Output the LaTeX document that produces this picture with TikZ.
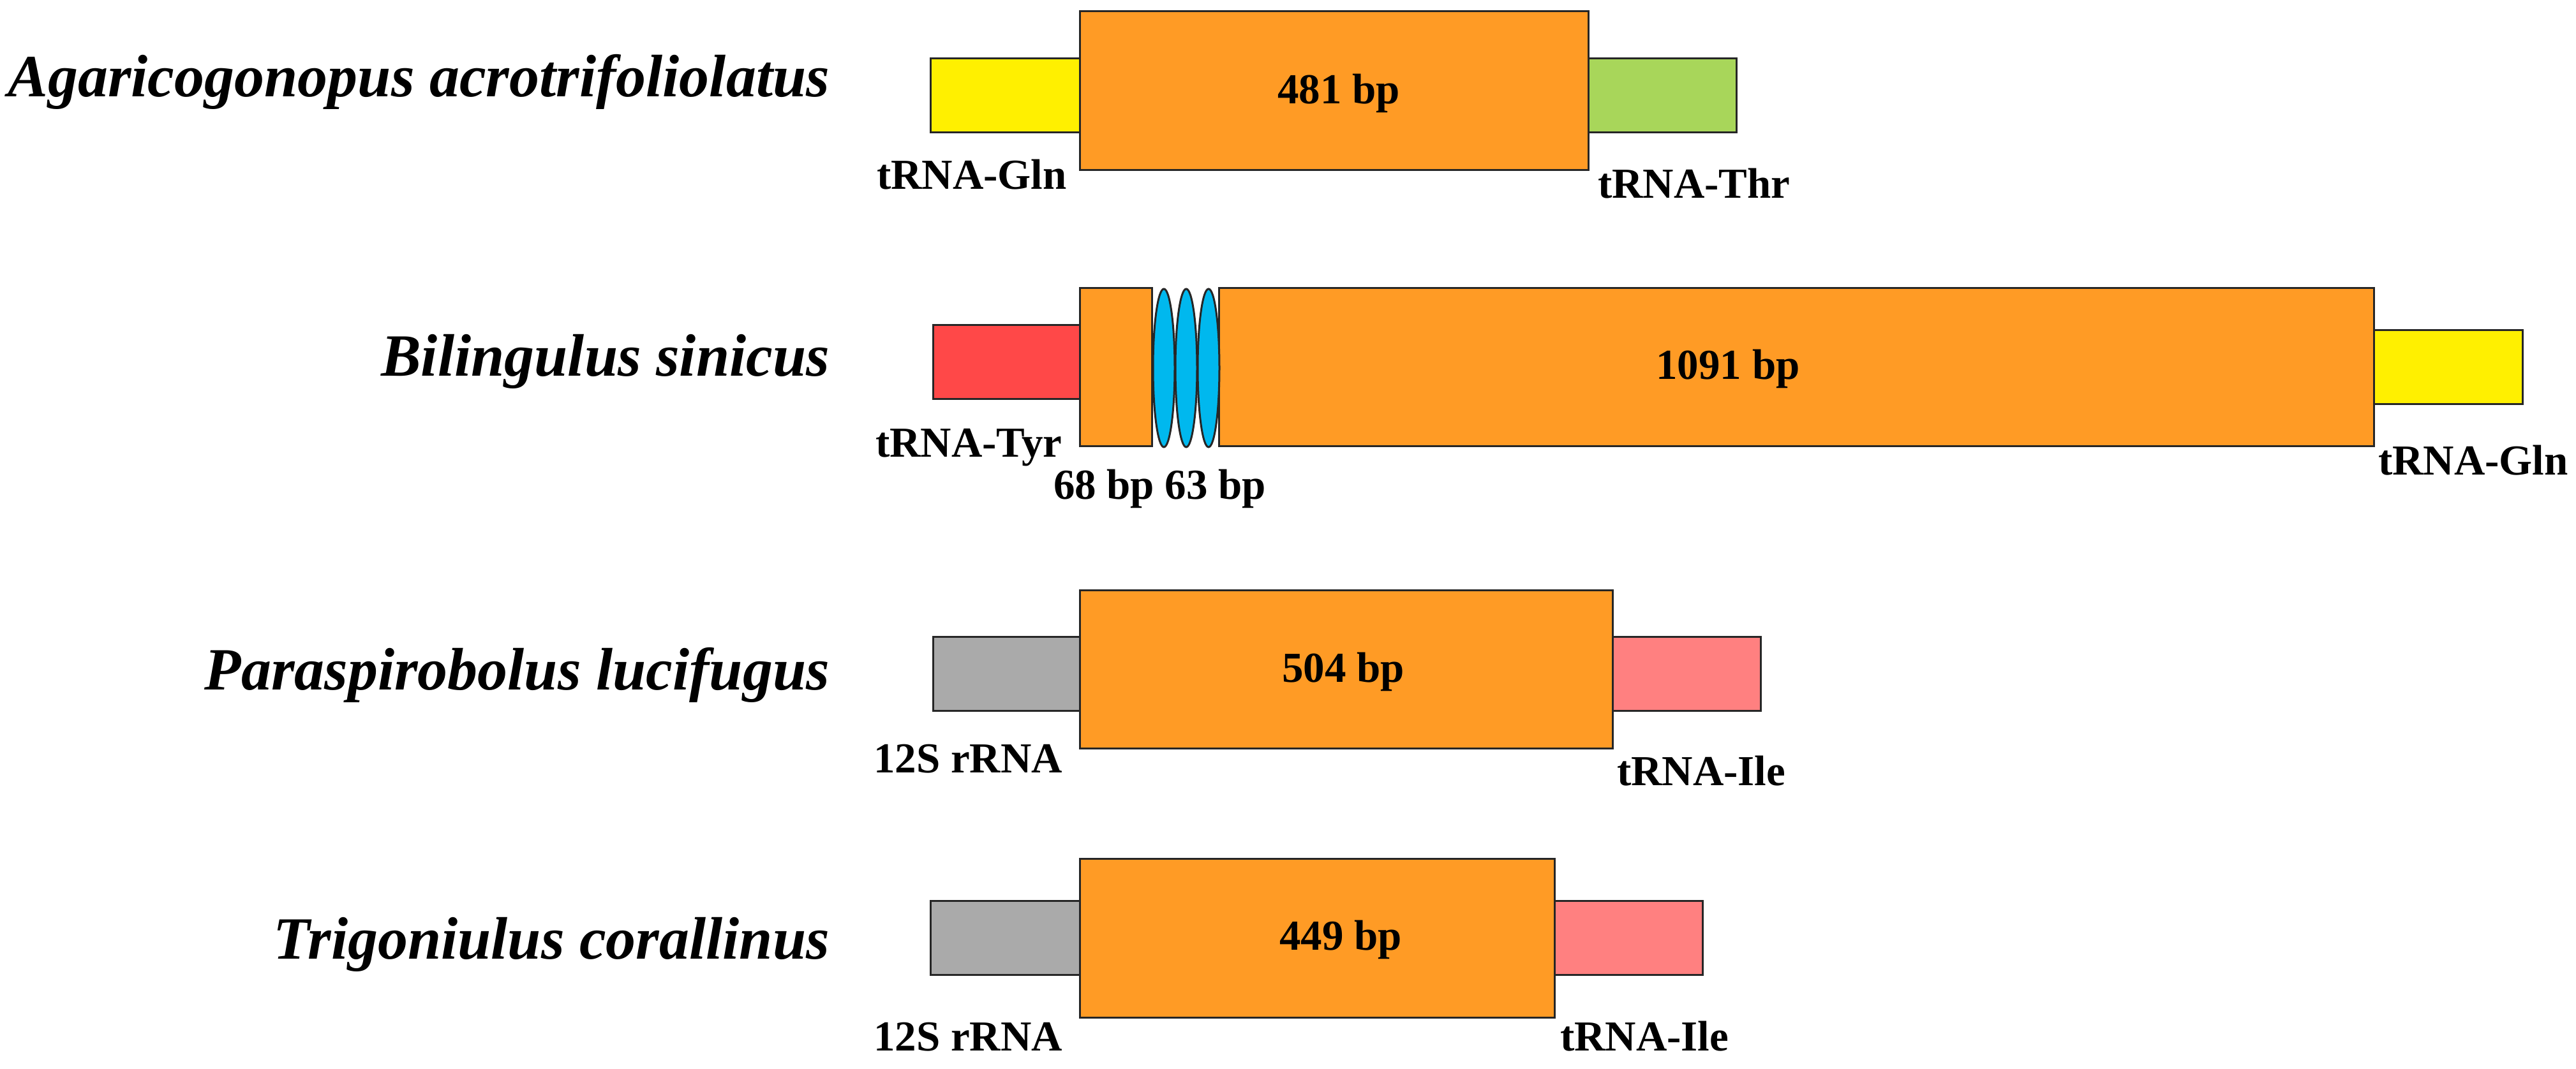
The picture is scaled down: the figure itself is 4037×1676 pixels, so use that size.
\documentclass[tikz,border=0pt]{standalone}
\usepackage{fontspec}
\setmainfont{Liberation Serif}
\definecolor{orng}{HTML}{FF9B25}
\definecolor{yel}{HTML}{FFF000}
\definecolor{grn}{HTML}{A8D65A}
\definecolor{redb}{HTML}{FF4848}
\definecolor{pnk}{HTML}{FF8080}
\definecolor{gry}{HTML}{AAAAAA}
\definecolor{cyn}{HTML}{00B8EE}
\tikzset{
  seg/.style={draw=black!85, line width=0.3pt},
  species/.style={inner sep=0pt, anchor=base east, font=\fontsize{9.4pt}{10pt}\selectfont\bfseries\itshape},
  lbl/.style={inner sep=0pt, anchor=base west, font=\fontsize{6.7pt}{7pt}\selectfont\bfseries},
  bp/.style={inner sep=0pt, anchor=base, font=\fontsize{6.7pt}{7pt}\selectfont\bfseries}
}
\begin{document}
\begin{tikzpicture}[x=0.1pt,y=-0.1pt]
\useasboundingbox (0,0) rectangle (4037,1676);
% Row 1
\node[species] (n1) at (1302,152) {Agaricogonopus acrotrifoliolatus};
\filldraw[seg, fill=yel] (1458,92) rectangle (1692,208);
\filldraw[seg, fill=grn] (2489,92) rectangle (2721,208);
\filldraw[seg, fill=orng] (1692,18) rectangle (2489,267);
\node[bp] (b1) at (2098,163) {481 bp};
\node[lbl] (l1a) at (1372,297) {tRNA-Gln};
\node[lbl] (l1b) at (2502,311) {tRNA-Thr};
% Row 2
\node[species] (n2) at (1302,590) {Bilingulus sinicus};
\filldraw[seg, fill=redb] (1462,510) rectangle (1692,626);
\filldraw[seg, fill=yel] (3720,518) rectangle (3953,634);
\filldraw[seg, fill=orng] (1692,452) rectangle (1805,700);
\filldraw[seg, fill=orng] (1910,452) rectangle (3720,700);
\filldraw[seg, fill=cyn] (1824,577) ellipse [x radius=17, y radius=124];
\filldraw[seg, fill=cyn] (1859,577) ellipse [x radius=17, y radius=124];
\filldraw[seg, fill=cyn] (1894,577) ellipse [x radius=17, y radius=124];
\node[bp] (b2) at (2708,595) {1091 bp};
\node[lbl] (l2a) at (1370,717) {tRNA-Tyr};
\node[lbl] (l2b) at (1649,783) {68 bp 63 bp};
\node[lbl] (l2c) at (3725,745) {tRNA-Gln};
% Row 3
\node[species] (n3) at (1302,1082) {Paraspirobolus lucifugus};
\filldraw[seg, fill=gry] (1462,999) rectangle (1692,1115);
\filldraw[seg, fill=pnk] (2527,999) rectangle (2759,1115);
\filldraw[seg, fill=orng] (1692,926) rectangle (2527,1174);
\node[bp] (b3) at (2105,1070) {504 bp};
\node[lbl] (l3a) at (1367,1212) {12S rRNA};
\node[lbl] (l3b) at (2532,1232) {tRNA-Ile};
% Row 4
\node[species] (n4) at (1302,1504) {Trigoniulus corallinus};
\filldraw[seg, fill=gry] (1458,1413) rectangle (1692,1529);
\filldraw[seg, fill=pnk] (2436,1413) rectangle (2668,1529);
\filldraw[seg, fill=orng] (1692,1347) rectangle (2436,1596);
\node[bp] (b4) at (2101,1490) {449 bp};
\node[lbl] (l4a) at (1367,1648) {12S rRNA};
\node[lbl] (l4b) at (2443,1648) {tRNA-Ile};
\end{tikzpicture}
\end{document}
